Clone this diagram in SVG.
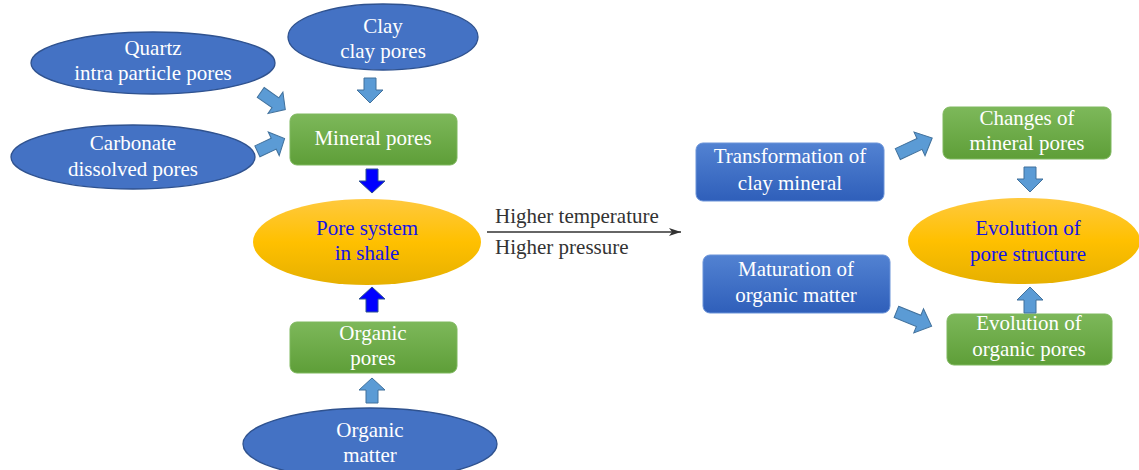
<svg xmlns="http://www.w3.org/2000/svg" width="1139" height="470" viewBox="0 0 1139 470">
<defs>
<linearGradient id="gGreen" x1="0" y1="0" x2="0" y2="1"><stop offset="0" stop-color="#7DB85A"/><stop offset="1" stop-color="#5E9E38"/></linearGradient>
<linearGradient id="gBlue" x1="0" y1="0" x2="0" y2="1"><stop offset="0" stop-color="#5282D2"/><stop offset="1" stop-color="#2F5FBA"/></linearGradient>
<linearGradient id="gYellow" x1="0" y1="0" x2="0" y2="1"><stop offset="0" stop-color="#FFC93E"/><stop offset="0.5" stop-color="#FFC000"/><stop offset="1" stop-color="#E6B000"/></linearGradient>
<marker id="arr" viewBox="0 0 12 8" refX="12" refY="4" markerWidth="12" markerHeight="8" markerUnits="userSpaceOnUse" orient="auto"><path d="M0,0 L12,4 L0,8 L3,4 Z" fill="#333"/></marker>
</defs>
<style>
.ell{fill:#4472C4;stroke:#2F528F;stroke-width:1.3}
.gbox{fill:url(#gGreen);stroke:#7FB85E;stroke-width:1}
.bbox{fill:url(#gBlue);stroke:#6A93D8;stroke-width:1}
.yell{fill:url(#gYellow);stroke:none}
text{font-family:'Liberation Serif','DejaVu Serif','Times New Roman',serif;font-size:21px}
.t{fill:#fff;text-anchor:middle}
.ty{fill:#1414E6}
.lab{fill:#333;text-anchor:start}
.la{fill:#5B9BD5;stroke:#41719C;stroke-width:1}
.da{fill:#0000FF;stroke:#2F528F;stroke-width:1}
</style>
<g id="quartz"><ellipse class="ell" cx="153" cy="63" rx="122" ry="31"/><text class="t" x="153" y="55">Quartz</text><text class="t" x="153" y="80">intra particle pores</text></g>
<g id="clay"><ellipse class="ell" cx="383" cy="37" rx="95" ry="33"/><text class="t" x="383" y="33">Clay</text><text class="t" x="383" y="58">clay pores</text></g>
<g id="carbonate"><ellipse class="ell" cx="133" cy="157" rx="122" ry="32"/><text class="t" x="133" y="150">Carbonate</text><text class="t" x="133" y="176">dissolved pores</text></g>
<g id="mineral"><rect class="gbox" x="290" y="114" width="167" height="51" rx="7"/><text class="t" x="373" y="145">Mineral pores</text></g>
<g id="poresystem"><ellipse class="yell" cx="367" cy="242" rx="114" ry="43"/><text class="t ty" x="367" y="235">Pore system</text><text class="t ty" x="367" y="260">in shale</text></g>
<g id="organicpores"><rect class="gbox" x="290" y="322" width="167" height="51" rx="7"/><text class="t" x="373" y="340">Organic</text><text class="t" x="373" y="365">pores</text></g>
<g id="organicmatter"><ellipse class="ell" cx="370" cy="444" rx="127" ry="36"/><text class="t" x="370" y="437">Organic</text><text class="t" x="370" y="462">matter</text></g>
<g id="transformation"><rect class="bbox" x="696" y="143" width="188" height="58" rx="7"/><text class="t" x="790" y="163">Transformation of</text><text class="t" x="790" y="190">clay mineral</text></g>
<g id="changes"><rect class="gbox" x="943" y="107" width="168" height="52" rx="7"/><text class="t" x="1027" y="125">Changes of</text><text class="t" x="1027" y="150">mineral pores</text></g>
<g id="evolution"><ellipse class="yell" cx="1024" cy="241" rx="116" ry="43"/><text class="t ty" x="1028" y="235">Evolution of</text><text class="t ty" x="1028" y="261">pore structure</text></g>
<g id="maturation"><rect class="bbox" x="703" y="255" width="187" height="58" rx="7"/><text class="t" x="796" y="276">Maturation of</text><text class="t" x="796" y="302">organic matter</text></g>
<g id="evolorganic"><rect class="gbox" x="947" y="314" width="165" height="51" rx="7"/><text class="t" x="1029" y="330">Evolution of</text><text class="t" x="1029" y="356">organic pores</text></g>
<g id="connectors">
<path class="la" transform="translate(273,101) rotate(35)" d="M-15,-6 H3 V-13 L15,0 L3,13 V6 H-15 Z"/>
<path class="la" transform="translate(271,145) rotate(-25)" d="M-15,-6 H3 V-13 L15,0 L3,13 V6 H-15 Z"/>
<path class="la" d="M364,78 h12 v12 h7 l-13,13 l-13,-13 h7 z"/>
<path class="da" d="M366,169 h12 v12 h7 l-13,12 l-13,-12 h7 z"/>
<path class="da" d="M372,287 l13,12 h-7 v13 h-12 v-13 h-7 z"/>
<path class="la" d="M372,378 l13,12 h-7 v13 h-12 v-13 h-7 z"/>
<line x1="487" y1="232" x2="681" y2="232" stroke="#333" stroke-width="1.3" marker-end="url(#arr)"/>
<text class="lab" x="495" y="223">Higher temperature</text>
<text class="lab" x="495" y="254">Higher pressure</text>
<path class="la" transform="translate(915,146) rotate(-25)" d="M-19,-6 H5 V-13 L19,0 L5,13 V6 H-19 Z"/>
<path class="la" d="M1024,167 h12 v12 h7 l-13,13 l-13,-13 h7 z"/>
<path class="la" transform="translate(914,319) rotate(22)" d="M-19,-6 H5 V-13 L19,0 L5,13 V6 H-19 Z"/>
<path class="la" d="M1030,287 l13,13 h-7 v13 h-12 v-13 h-7 z"/>
</g>
</svg>
